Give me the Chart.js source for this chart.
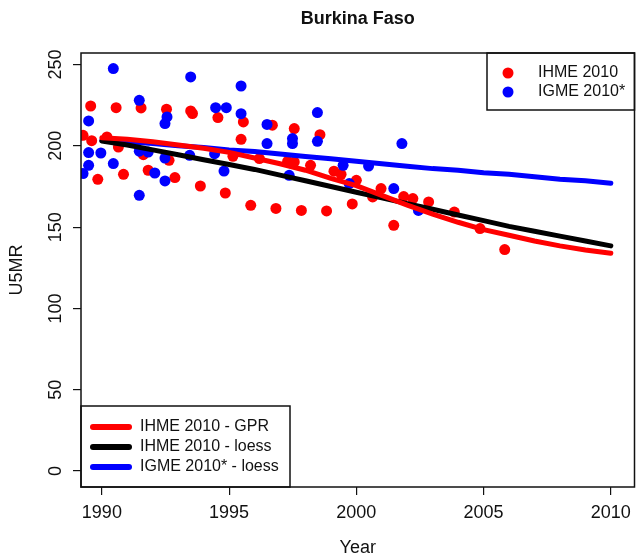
<!DOCTYPE html>
<html>
<head>
<meta charset="utf-8">
<script src="https://cdn.jsdelivr.net/npm/chart.js@4/dist/chart.umd.min.js"></script>
<style>
  html, body { margin: 0; padding: 0; background: #fff; }
  #wrap { width: 640px; height: 559px; }
</style>
</head>
<body>
<div id="wrap"><canvas id="chart"></canvas></div>
<script>
// survey points
const ihmeYears = [1989.26, 1989.56, 1989.6, 1989.84, 1990.2, 1990.56, 1990.65, 1990.85, 1991.54, 1991.63,
  1991.82, 1992.54, 1992.64, 1992.87, 1993.49, 1993.56, 1993.87, 1994.56, 1994.85, 1995.15,
  1995.47, 1995.56, 1995.85, 1996.19, 1996.7, 1996.84, 1997.3, 1997.56, 1997.56, 1997.84,
  1998.2, 1998.57, 1998.83, 1999.12, 1999.4, 1999.84, 2000.0, 2000.64, 2000.97, 2001.47,
  2001.86, 2002.22, 2002.84, 2003.85, 2004.86, 2005.83];
const ihmeU5mr = [206.5, 224.5, 203.2, 179.4, 205.5, 223.5, 199.3, 182.5, 223.3, 194.6,
  185, 222.5, 191.1, 180.5, 221.5, 219.9, 175.3, 217.4, 171, 193.6,
  204, 214.7, 163.4, 192.2, 212.7, 161.5, 190.5, 190.1, 210.6, 160.3,
  188, 206.9, 160, 184.4, 182.5, 164.3, 178.8, 168.6, 173.7, 151.1,
  168.8, 167.6, 165.5, 159.3, 149.1, 136.2];

const igmeYears = [1989.26, 1989.48, 1989.48, 1989.48, 1989.96, 1990.45, 1990.45, 1991.47, 1991.47, 1991.47,
  1991.82, 1992.08, 1992.48, 1992.56, 1992.48, 1992.48, 1993.45, 1993.49, 1994.47, 1994.43,
  1994.8, 1994.89, 1995.47, 1995.47, 1996.49, 1996.49, 1997.36, 1997.49, 1997.49, 1998.47,
  1998.47, 1999.48, 1999.72, 2000.48, 2001.47, 2001.79, 2002.44];
const igmeU5mr = [183, 215.3, 195.9, 188, 195.6, 247.5, 189.1, 228, 196.7, 169.6,
  196.2, 183.3, 213.7, 217.8, 192.5, 178.4, 194.2, 242.4, 223.5, 195.2,
  184.5, 223.5, 236.8, 219.8, 213.2, 201.4, 181.9, 204.5, 201.4, 220.5,
  202.8, 188, 176.8, 187.6, 173.7, 201.4, 160.3];

// fitted curves
const fitYears = [1990, 1991, 1992, 1993, 1994, 1995, 1996, 1997, 1998, 1999, 2000,
  2001, 2002, 2003, 2004, 2005, 2006, 2007, 2008, 2009, 2010];
const ihmeGpr = [205, 204, 202.5, 200.5, 198.5, 196, 192.5, 189, 185, 180, 175.5,
  169.5, 163.5, 158, 153, 148.5, 145, 141.5, 138.5, 136, 134];
const ihmeLoess = [203, 200.5, 197.5, 194.5, 191.5, 188.5, 185.5, 182, 178.5, 175, 171.5,
  168, 164.5, 161, 157.5, 154, 150.5, 147.5, 144.5, 141.5, 138.5];
const igmeLoess = [203.5, 202.5, 201.5, 200, 199, 197.5, 196.5, 195, 193.5, 192, 190.5,
  189, 187.5, 186, 185, 183.5, 182.5, 181, 179.5, 178.5, 177];

const xTicks = [1990, 1995, 2000, 2005, 2010];
const yTicks = [0, 50, 100, 150, 200, 250];

const FONT = '"Liberation Sans", Arial, sans-serif';

function pts(xs, ys) {
  return xs.map((x, i) => ({ x: x, y: ys[i] }));
}

// R-like frame, rotated y labels, titles and legends
const rStyle = {
  id: 'rStyle',
  afterDraw(chart) {
    const { ctx, chartArea: a, scales } = chart;
    const ds = chart.data.datasets;
    ctx.save();
    ctx.fillStyle = '#111';
    ctx.textBaseline = 'middle';

    ctx.font = '18px ' + FONT;
    ctx.textAlign = 'center';
    yTicks.forEach(v => {
      const y = scales.y.getPixelForValue(v);
      ctx.save();
      ctx.translate(56, y);
      ctx.rotate(-Math.PI / 2);
      ctx.fillText(String(v), 0, 0);
      ctx.restore();
    });

    ctx.fillText('Year', (a.left + a.right) / 2, 548);
    ctx.save();
    ctx.translate(17, (a.top + a.bottom) / 2);
    ctx.rotate(-Math.PI / 2);
    ctx.fillText('U5MR', 0, 0);
    ctx.restore();

    ctx.font = 'bold 18px ' + FONT;
    ctx.fillText('Burkina Faso', (a.left + a.right) / 2, 19);

    // top-right legend: the two point series
    ctx.font = '16px ' + FONT;
    ctx.textAlign = 'left';
    ctx.lineWidth = 1.5;
    ctx.strokeStyle = '#111';
    ctx.fillStyle = '#fff';
    ctx.fillRect(487, a.top, a.right - 487, 57);
    ctx.strokeRect(487, a.top, a.right - 487, 57);
    [0, 1].forEach((k, i) => {
      const y = 73 + i * 19;
      ctx.fillStyle = ds[k].backgroundColor;
      ctx.beginPath();
      ctx.arc(508, y, 5.5, 0, Math.PI * 2);
      ctx.fill();
      ctx.fillStyle = '#111';
      ctx.fillText(ds[k].label, 538, y);
    });

    // bottom-left legend: the three curves
    ctx.fillStyle = '#fff';
    ctx.fillRect(a.left, 406, 209, a.bottom - 406);
    ctx.strokeStyle = '#111';
    ctx.lineWidth = 1.5;
    ctx.strokeRect(a.left, 406, 209, a.bottom - 406);
    [4, 3, 2].forEach((k, i) => {
      const y = 427 + i * 20;
      ctx.strokeStyle = ds[k].borderColor;
      ctx.lineWidth = 6;
      ctx.lineCap = 'round';
      ctx.beginPath();
      ctx.moveTo(93, y);
      ctx.lineTo(129, y);
      ctx.stroke();
      ctx.fillStyle = '#111';
      ctx.fillText(ds[k].label, 140, y);
    });

    // plot frame
    ctx.lineCap = 'butt';
    ctx.strokeStyle = '#111';
    ctx.lineWidth = 1.5;
    ctx.strokeRect(a.left, a.top, a.right - a.left, a.bottom - a.top);
    ctx.restore();
  }
};

new Chart(document.getElementById('chart'), {
  type: 'scatter',
  data: {
    datasets: [
      { label: 'IHME 2010', data: pts(ihmeYears, ihmeU5mr), backgroundColor: '#ff0000',
        pointRadius: 5.5, pointBorderWidth: 0, order: 5, clip: 0 },
      { label: 'IGME 2010*', data: pts(igmeYears, igmeU5mr), backgroundColor: '#0000ff',
        pointRadius: 5.5, pointBorderWidth: 0, order: 4, clip: 0 },
      { label: 'IGME 2010* - loess', data: pts(fitYears, igmeLoess), showLine: true, pointRadius: 0,
        borderColor: '#0000ff', borderWidth: 5, borderCapStyle: 'round', order: 3, clip: 0 },
      { label: 'IHME 2010 - loess', data: pts(fitYears, ihmeLoess), showLine: true, pointRadius: 0,
        borderColor: '#000000', borderWidth: 5, borderCapStyle: 'round', order: 2, clip: 0 },
      { label: 'IHME 2010 - GPR', data: pts(fitYears, ihmeGpr), showLine: true, pointRadius: 0,
        borderColor: '#ff0000', borderWidth: 5, borderCapStyle: 'round', order: 1, clip: 0 }
    ]
  },
  options: {
    responsive: true,
    maintainAspectRatio: false,
    animation: false,
    events: [],
    layout: { padding: { top: 53, right: 3, left: 0, bottom: 0 } },
    plugins: { legend: { display: false }, title: { display: false }, tooltip: { enabled: false } },
    scales: {
      x: {
        type: 'linear',
        min: 1989.18,
        max: 2010.93,
        afterBuildTicks: s => { s.ticks = xTicks.map(v => ({ value: v })); },
        afterFit: s => { s.height = 72; },
        grid: { drawOnChartArea: false, tickLength: 8, color: '#111', lineWidth: 1.2 },
        border: { display: false },
        ticks: { color: '#111', padding: 7, maxRotation: 0, font: { size: 18, family: FONT },
          callback: v => String(v) }
      },
      y: {
        min: -9.8,
        max: 257.1,
        afterBuildTicks: s => { s.ticks = yTicks.map(v => ({ value: v })); },
        afterFit: s => { s.width = 81; },
        grid: { drawOnChartArea: false, tickLength: 8, color: '#111', lineWidth: 1.2 },
        border: { display: false },
        ticks: { display: false }
      }
    }
  },
  plugins: [rStyle]
});
</script>
</body>
</html>
